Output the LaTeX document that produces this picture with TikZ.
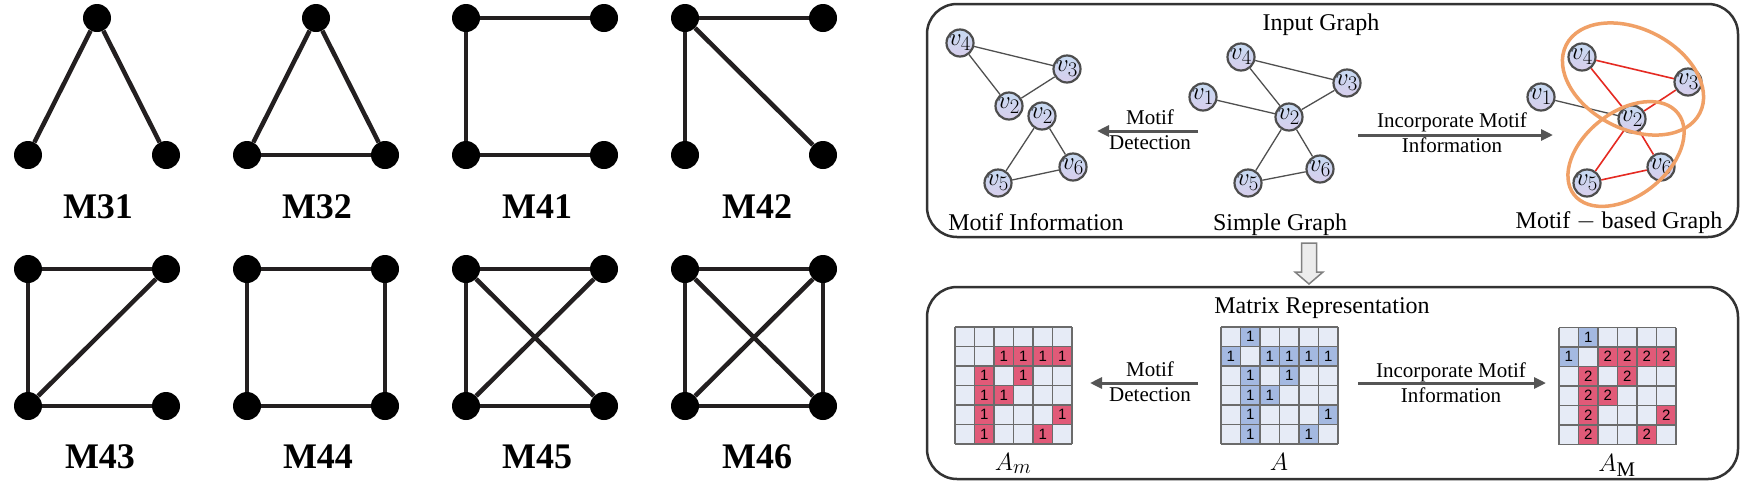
\documentclass[tikz,border=0pt]{standalone}
\usepackage{fontspec}
\setmainfont{Liberation Serif}
\newfontfamily\cellfont{Liberation Sans}
\usetikzlibrary{arrows.meta}

\definecolor{edgegray}{HTML}{505050}
\definecolor{boxgray}{HTML}{333333}
\definecolor{nodeborder}{HTML}{4D4D4D}
\definecolor{nodetop}{HTML}{C6DAF2}
\definecolor{nodebot}{HTML}{D8CEEC}
\definecolor{motifred}{HTML}{E52A22}
\definecolor{ellorange}{HTML}{F0A066}
\definecolor{cellempty}{HTML}{E6EBF6}
\definecolor{cellblue}{HTML}{A4B9E1}
\definecolor{cellred}{HTML}{E15A78}
\definecolor{gridgray}{HTML}{6B6B6B}
\definecolor{arrowgray}{HTML}{555555}
\definecolor{motifline}{HTML}{231F20}

\begin{document}
\begin{tikzpicture}[x=1pt,y=-1pt,
  mdot/.style={circle,fill=black,minimum size=28pt,inner sep=0pt},
  medge/.style={line width=4.5pt,draw=motifline},
  mlabel/.style={anchor=base,font=\fontsize{36}{40}\selectfont\bfseries},
  gnode/.style={circle,draw=nodeborder,line width=2.2pt,top color=nodetop,bottom color=nodebot,minimum size=27pt,inner sep=0pt,font=\fontsize{24.88}{25}\selectfont},
  gedge/.style={draw=edgegray,line width=1.3pt},
  redge/.style={draw=motifred,line width=1.6pt},
  panel/.style={draw=boxgray,line width=2.5pt,rounded corners=30pt},
  flowarrow/.style={draw=arrowgray,line width=3pt,-{Triangle[length=12pt,width=11pt]}},
  alabel/.style={anchor=base,font=\fontsize{21}{21}\selectfont},
  tlabel/.style={anchor=base,font=\fontsize{24}{24}\selectfont},
  mathlabel/.style={anchor=base,font=\fontsize{24.88}{25}\selectfont},
  cellnum/.style={font=\cellfont\fontsize{15}{15}\selectfont,inner sep=0pt},
  ellipsestyle/.style={draw=ellorange,line width=3.5pt},
  ]
\fill[white] (0,0) rectangle (1756,491);
\useasboundingbox (0,0) rectangle (1756,491);

% ---------------- Left: motifs ----------------
% M31
\node[mdot] (m31a) at (97,18) {};
\node[mdot] (m31b) at (28,155) {};
\node[mdot] (m31c) at (166,155) {};
\draw[medge] (m31a) -- (m31b);
\draw[medge] (m31a) -- (m31c);
\node[mlabel] (l31) at (98,218) {M31};
% M32
\node[mdot] (m32a) at (316,18) {};
\node[mdot] (m32b) at (247,155) {};
\node[mdot] (m32c) at (385,155) {};
\draw[medge] (m32a) -- (m32b);
\draw[medge] (m32a) -- (m32c);
\draw[medge] (m32b) -- (m32c);
\node[mlabel] (l32) at (317,218) {M32};
% M41
\node[mdot] (m41tl) at (466,18) {};
\node[mdot] (m41tr) at (604,18) {};
\node[mdot] (m41bl) at (466,155) {};
\node[mdot] (m41br) at (604,155) {};
\draw[medge] (m41tl) -- (m41tr);
\draw[medge] (m41tl) -- (m41bl);
\draw[medge] (m41bl) -- (m41br);
\node[mlabel] (l41) at (537,218) {M41};
% M42
\node[mdot] (m42tl) at (685,18) {};
\node[mdot] (m42tr) at (823,18) {};
\node[mdot] (m42bl) at (685,155) {};
\node[mdot] (m42br) at (823,155) {};
\draw[medge] (m42tl) -- (m42tr);
\draw[medge] (m42tl) -- (m42bl);
\draw[medge] (m42tl) -- (m42br);
\node[mlabel] (l42) at (757,218) {M42};
% M43
\node[mdot] (m43tl) at (28,269) {};
\node[mdot] (m43tr) at (166,269) {};
\node[mdot] (m43bl) at (28,406) {};
\node[mdot] (m43br) at (166,406) {};
\draw[medge] (m43tl) -- (m43tr);
\draw[medge] (m43tl) -- (m43bl);
\draw[medge] (m43bl) -- (m43tr);
\draw[medge] (m43bl) -- (m43br);
\node[mlabel] (l43) at (100,468) {M43};
% M44
\node[mdot] (m44tl) at (247,269) {};
\node[mdot] (m44tr) at (385,269) {};
\node[mdot] (m44bl) at (247,406) {};
\node[mdot] (m44br) at (385,406) {};
\draw[medge] (m44tl) -- (m44tr);
\draw[medge] (m44tr) -- (m44br);
\draw[medge] (m44br) -- (m44bl);
\draw[medge] (m44bl) -- (m44tl);
\node[mlabel] (l44) at (318,468) {M44};
% M45
\node[mdot] (m45tl) at (466,269) {};
\node[mdot] (m45tr) at (604,269) {};
\node[mdot] (m45bl) at (466,406) {};
\node[mdot] (m45br) at (604,406) {};
\draw[medge] (m45tl) -- (m45tr);
\draw[medge] (m45tl) -- (m45bl);
\draw[medge] (m45tl) -- (m45br);
\draw[medge] (m45bl) -- (m45tr);
\draw[medge] (m45bl) -- (m45br);
\node[mlabel] (l45) at (537,468) {M45};
% M46
\node[mdot] (m46tl) at (685,269) {};
\node[mdot] (m46tr) at (823,269) {};
\node[mdot] (m46bl) at (685,406) {};
\node[mdot] (m46br) at (823,406) {};
\draw[medge] (m46tl) -- (m46tr);
\draw[medge] (m46tl) -- (m46bl);
\draw[medge] (m46tl) -- (m46br);
\draw[medge] (m46bl) -- (m46tr);
\draw[medge] (m46bl) -- (m46br);
\draw[medge] (m46tr) -- (m46br);
\node[mlabel] (l46) at (757,468) {M46};

% ---------------- Right: panels ----------------
\draw[panel] (927,4) rectangle (1738,237);
\draw[panel] (927,287) rectangle (1738,479);

\node[tlabel] (ttitle) at (1321,30) {Input Graph};
\node[tlabel] (btitle) at (1322,313) {Matrix Representation};

% hollow arrow between panels
\coordinate (harrtop) at (1309,243);
\coordinate (harrtip) at (1309,284);
\draw[draw={rgb,255:red,128;green,128;blue,128},fill={rgb,255:red,236;green,236;blue,236},line width=1.5pt,line join=miter]
  (harrtop) ++(-7.5,0) -- ++(0,29) -- ++(-6.5,0) -- (harrtip) -- ++(14,-12) -- ++(-6.5,0) -- ++(0,-29) -- cycle;

% Motif information graph
\node[gnode] (mi4) at (960,43) {$v_4$};
\node[gnode] (mi3) at (1067,69) {$v_3$};
\node[gnode] (mi2a) at (1009,106) {$v_2$};
\node[gnode] (mi2b) at (1042,116) {$v_2$};
\node[gnode] (mi6) at (1073,167) {$v_6$};
\node[gnode] (mi5) at (998,183) {$v_5$};
\draw[gedge] (mi4) -- (mi3);
\draw[gedge] (mi4) -- (mi2a);
\draw[gedge] (mi2a) -- (mi3);
\draw[gedge] (mi2b) -- (mi5);
\draw[gedge] (mi2b) -- (mi6);
\draw[gedge] (mi5) -- (mi6);

% Simple graph
\node[gnode] (sg1) at (1203,97) {$v_1$};
\node[gnode] (sg4) at (1241,57) {$v_4$};
\node[gnode] (sg3) at (1347,83) {$v_3$};
\node[gnode] (sg2) at (1289,117) {$v_2$};
\node[gnode] (sg6) at (1320,169) {$v_6$};
\node[gnode] (sg5) at (1248,183) {$v_5$};
\draw[gedge] (sg4) -- (sg3);
\draw[gedge] (sg4) -- (sg2);
\draw[gedge] (sg3) -- (sg2);
\draw[gedge] (sg1) -- (sg2);
\draw[gedge] (sg2) -- (sg5);
\draw[gedge] (sg2) -- (sg6);
\draw[gedge] (sg5) -- (sg6);

% Motif-based graph
\node[gnode] (mb1) at (1541,97) {$v_1$};
\node[gnode] (mb4) at (1582,57) {$v_4$};
\node[gnode] (mb3) at (1688,82) {$v_3$};
\node[gnode] (mb2) at (1632,119) {$v_2$};
\node[gnode] (mb6) at (1661,167) {$v_6$};
\node[gnode] (mb5) at (1587,183) {$v_5$};
\draw[gedge] (mb1) -- (mb2);
\draw[redge] (mb4) -- (mb3);
\draw[redge] (mb4) -- (mb2);
\draw[redge] (mb3) -- (mb2);
\draw[redge] (mb2) -- (mb5);
\draw[redge] (mb2) -- (mb6);
\draw[redge] (mb5) -- (mb6);
\coordinate (ell1) at (1633,79);
\coordinate (ell2) at (1626,154);
\draw[ellipsestyle] (ell1) ellipse [x radius=75, y radius=50, rotate=-27];
\draw[ellipsestyle] (ell2) ellipse [x radius=66, y radius=42, rotate=38];

% captions
\node[tlabel] (capmi) at (1036,230) {Motif Information};
\node[tlabel] (capsg) at (1280,230) {Simple Graph};
\node[tlabel] (capmb) at (1619,228) {Motif $-$ based Graph};

% top arrows
\coordinate (tdA) at (1198,131);
\coordinate (tdB) at (1097,131);
\draw[flowarrow] (tdA) -- (tdB);
\node[alabel] (tdl1) at (1150,124) {Motif};
\node[alabel] (tdl2) at (1150,149) {Detection};
\coordinate (tiA) at (1358,135);
\coordinate (tiB) at (1553,135);
\draw[flowarrow] (tiA) -- (tiB);
\node[alabel] (til1) at (1452,127) {Incorporate Motif};
\node[alabel] (til2) at (1452,152) {Information};

% bottom arrows
\coordinate (bdA) at (1198,383);
\coordinate (bdB) at (1090,383);
\draw[flowarrow] (bdA) -- (bdB);
\node[alabel] (bdl1) at (1150,376) {Motif};
\node[alabel] (bdl2) at (1150,401) {Detection};
\coordinate (biA) at (1358,383);
\coordinate (biB) at (1546,383);
\draw[flowarrow] (biA) -- (biB);
\node[alabel] (bil1) at (1451,377) {Incorporate Motif};
\node[alabel] (bil2) at (1451,402) {Information};

% ---------------- Matrices ----------------
% A_m
\begin{scope}[shift={(955,327)}]
  \fill[cellempty] (0,0) rectangle (117,117);
  \foreach \r/\c/\v in {1/2/1,1/3/1,1/4/1,1/5/1,2/1/1,2/3/1,3/1/1,3/2/1,4/1/1,4/5/1,5/1/1,5/4/1}{
    \fill[cellred] (\c*19.5,\r*19.5) rectangle ++(19.5,19.5);
    \node[cellnum] at (\c*19.5+9.75,\r*19.5+9.75) {\v};
  }
  \foreach \i in {0,...,6}{
    \draw[gridgray,line width=1.5pt] (\i*19.5,0) -- (\i*19.5,117);
    \draw[gridgray,line width=1.5pt] (0,\i*19.5) -- (117,\i*19.5);
  }
\end{scope}
% A
\begin{scope}[shift={(1221,327)}]
  \fill[cellempty] (0,0) rectangle (117,117);
  \foreach \r/\c/\v in {0/1/1,1/0/1,1/2/1,1/3/1,1/4/1,1/5/1,2/1/1,2/3/1,3/1/1,3/2/1,4/1/1,4/5/1,5/1/1,5/4/1}{
    \fill[cellblue] (\c*19.5,\r*19.5) rectangle ++(19.5,19.5);
    \node[cellnum] at (\c*19.5+9.75,\r*19.5+9.75) {\v};
  }
  \foreach \i in {0,...,6}{
    \draw[gridgray,line width=1.5pt] (\i*19.5,0) -- (\i*19.5,117);
    \draw[gridgray,line width=1.5pt] (0,\i*19.5) -- (117,\i*19.5);
  }
\end{scope}
% A_M
\begin{scope}[shift={(1559,327.5)}]
  \fill[cellempty] (0,0) rectangle (117,117);
  \foreach \r/\c/\v/\col in {0/1/1/cellblue,1/0/1/cellblue,1/2/2/cellred,1/3/2/cellred,1/4/2/cellred,1/5/2/cellred,2/1/2/cellred,2/3/2/cellred,3/1/2/cellred,3/2/2/cellred,4/1/2/cellred,4/5/2/cellred,5/1/2/cellred,5/4/2/cellred}{
    \fill[\col] (\c*19.5,\r*19.5) rectangle ++(19.5,19.5);
    \node[cellnum] at (\c*19.5+9.75,\r*19.5+9.75) {\v};
  }
  \foreach \i in {0,...,6}{
    \draw[gridgray,line width=1.5pt] (\i*19.5,0) -- (\i*19.5,117);
    \draw[gridgray,line width=1.5pt] (0,\i*19.5) -- (117,\i*19.5);
  }
\end{scope}

\node[mathlabel] (lAm) at (1013,470) {$A_m$};
\node[mathlabel] (lA) at (1279,470) {$A$};
\node[mathlabel] (lAM) at (1617,471) {$A_{\mathrm{M}}$};

\end{tikzpicture}
\end{document}
